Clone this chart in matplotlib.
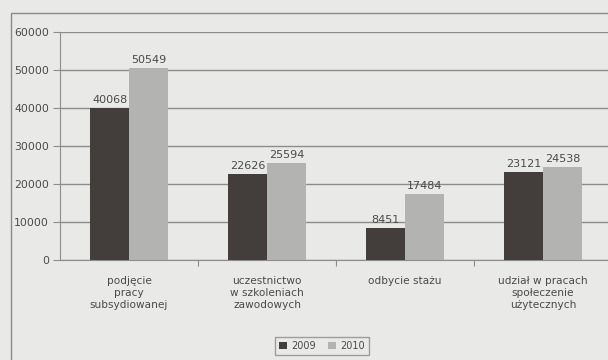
import matplotlib.pyplot as plt
import numpy as np
from matplotlib.patches import Rectangle

# Dane
kategorie = ['podjęcie\npracy\nsubsydiowanej',
             'uczestnictwo\nw szkoleniach\nzawodowych',
             'odbycie stażu',
             'udział w pracach\nspołeczenie\nużytecznych']
wartosci_2009 = [40068, 22626, 8451, 23121]
wartosci_2010 = [50549, 25594, 17484, 24538]
lata = ['2009', '2010']

kolor_2009 = '#433e3c'
kolor_2010 = '#b3b3b1'
tlo = '#e9e9e7'
szary_tekst = '#4a4a4a'

W, H = 608, 360
fig = plt.figure(figsize=(W / 100, H / 100), dpi=100)
fig.patch.set_facecolor(tlo)

# Ramka wykresu
fig.patches.append(Rectangle((11 / W, -0.05), 1.1, (H - 13) / H + 0.05,
                             transform=fig.transFigure, fill=False,
                             edgecolor='#8a8a8a', linewidth=1.0))

ax = fig.add_axes([60 / W, 100 / H, 552 / W, 228 / H])
ax.set_facecolor(tlo)

x = np.arange(len(kategorie))
szer = 0.28
s1 = ax.bar(x - szer / 2, wartosci_2009, szer, color=kolor_2009, label=lata[0], zorder=3)
s2 = ax.bar(x + szer / 2, wartosci_2010, szer, color=kolor_2010, label=lata[1], zorder=3)

for slupki, wart in ((s1, wartosci_2009), (s2, wartosci_2010)):
    for b, v in zip(slupki, wart):
        ax.text(b.get_x() + b.get_width() / 2, v + 700, str(v), ha='center', va='bottom',
                fontsize=8, color=szary_tekst)

ax.set_xlim(-0.5, len(kategorie) - 0.5)
ax.set_ylim(0, 60000)
ax.set_yticks(range(0, 60001, 10000))
ax.yaxis.grid(True, color='#8c8c8c', linewidth=1.0, zorder=0)
ax.set_axisbelow(True)

ax.set_xticks(np.arange(0.5, len(kategorie) - 0.5, 1.0))
ax.set_xticklabels([])
ax.tick_params(axis='x', length=4, color='#8c8c8c', direction='out')
ax.tick_params(axis='y', length=5, color='#8c8c8c', labelsize=7.8,
               labelcolor=szary_tekst, pad=3)

for i, k in enumerate(kategorie):
    ax.text(i, -4300, k, ha='center', va='top', fontsize=7.6, color=szary_tekst,
            linespacing=1.2)

for s in ['top', 'right']:
    ax.spines[s].set_visible(False)
ax.spines['left'].set_color('#8c8c8c')
ax.spines['bottom'].set_color('#8c8c8c')

leg = fig.legend(handles=[s1, s2], loc='center', bbox_to_anchor=(322 / W, 1 - 346 / H),
                 ncol=2, fontsize=7, frameon=True, handlelength=0.8, handleheight=0.8,
                 handletextpad=0.5, columnspacing=1.2, borderpad=0.4, fancybox=False)
leg.get_frame().set_edgecolor('#8a8a8a')
leg.get_frame().set_facecolor(tlo)
for t in leg.get_texts():
    t.set_color(szary_tekst)

fig.savefig('out.png', dpi=100, facecolor=fig.get_facecolor())
